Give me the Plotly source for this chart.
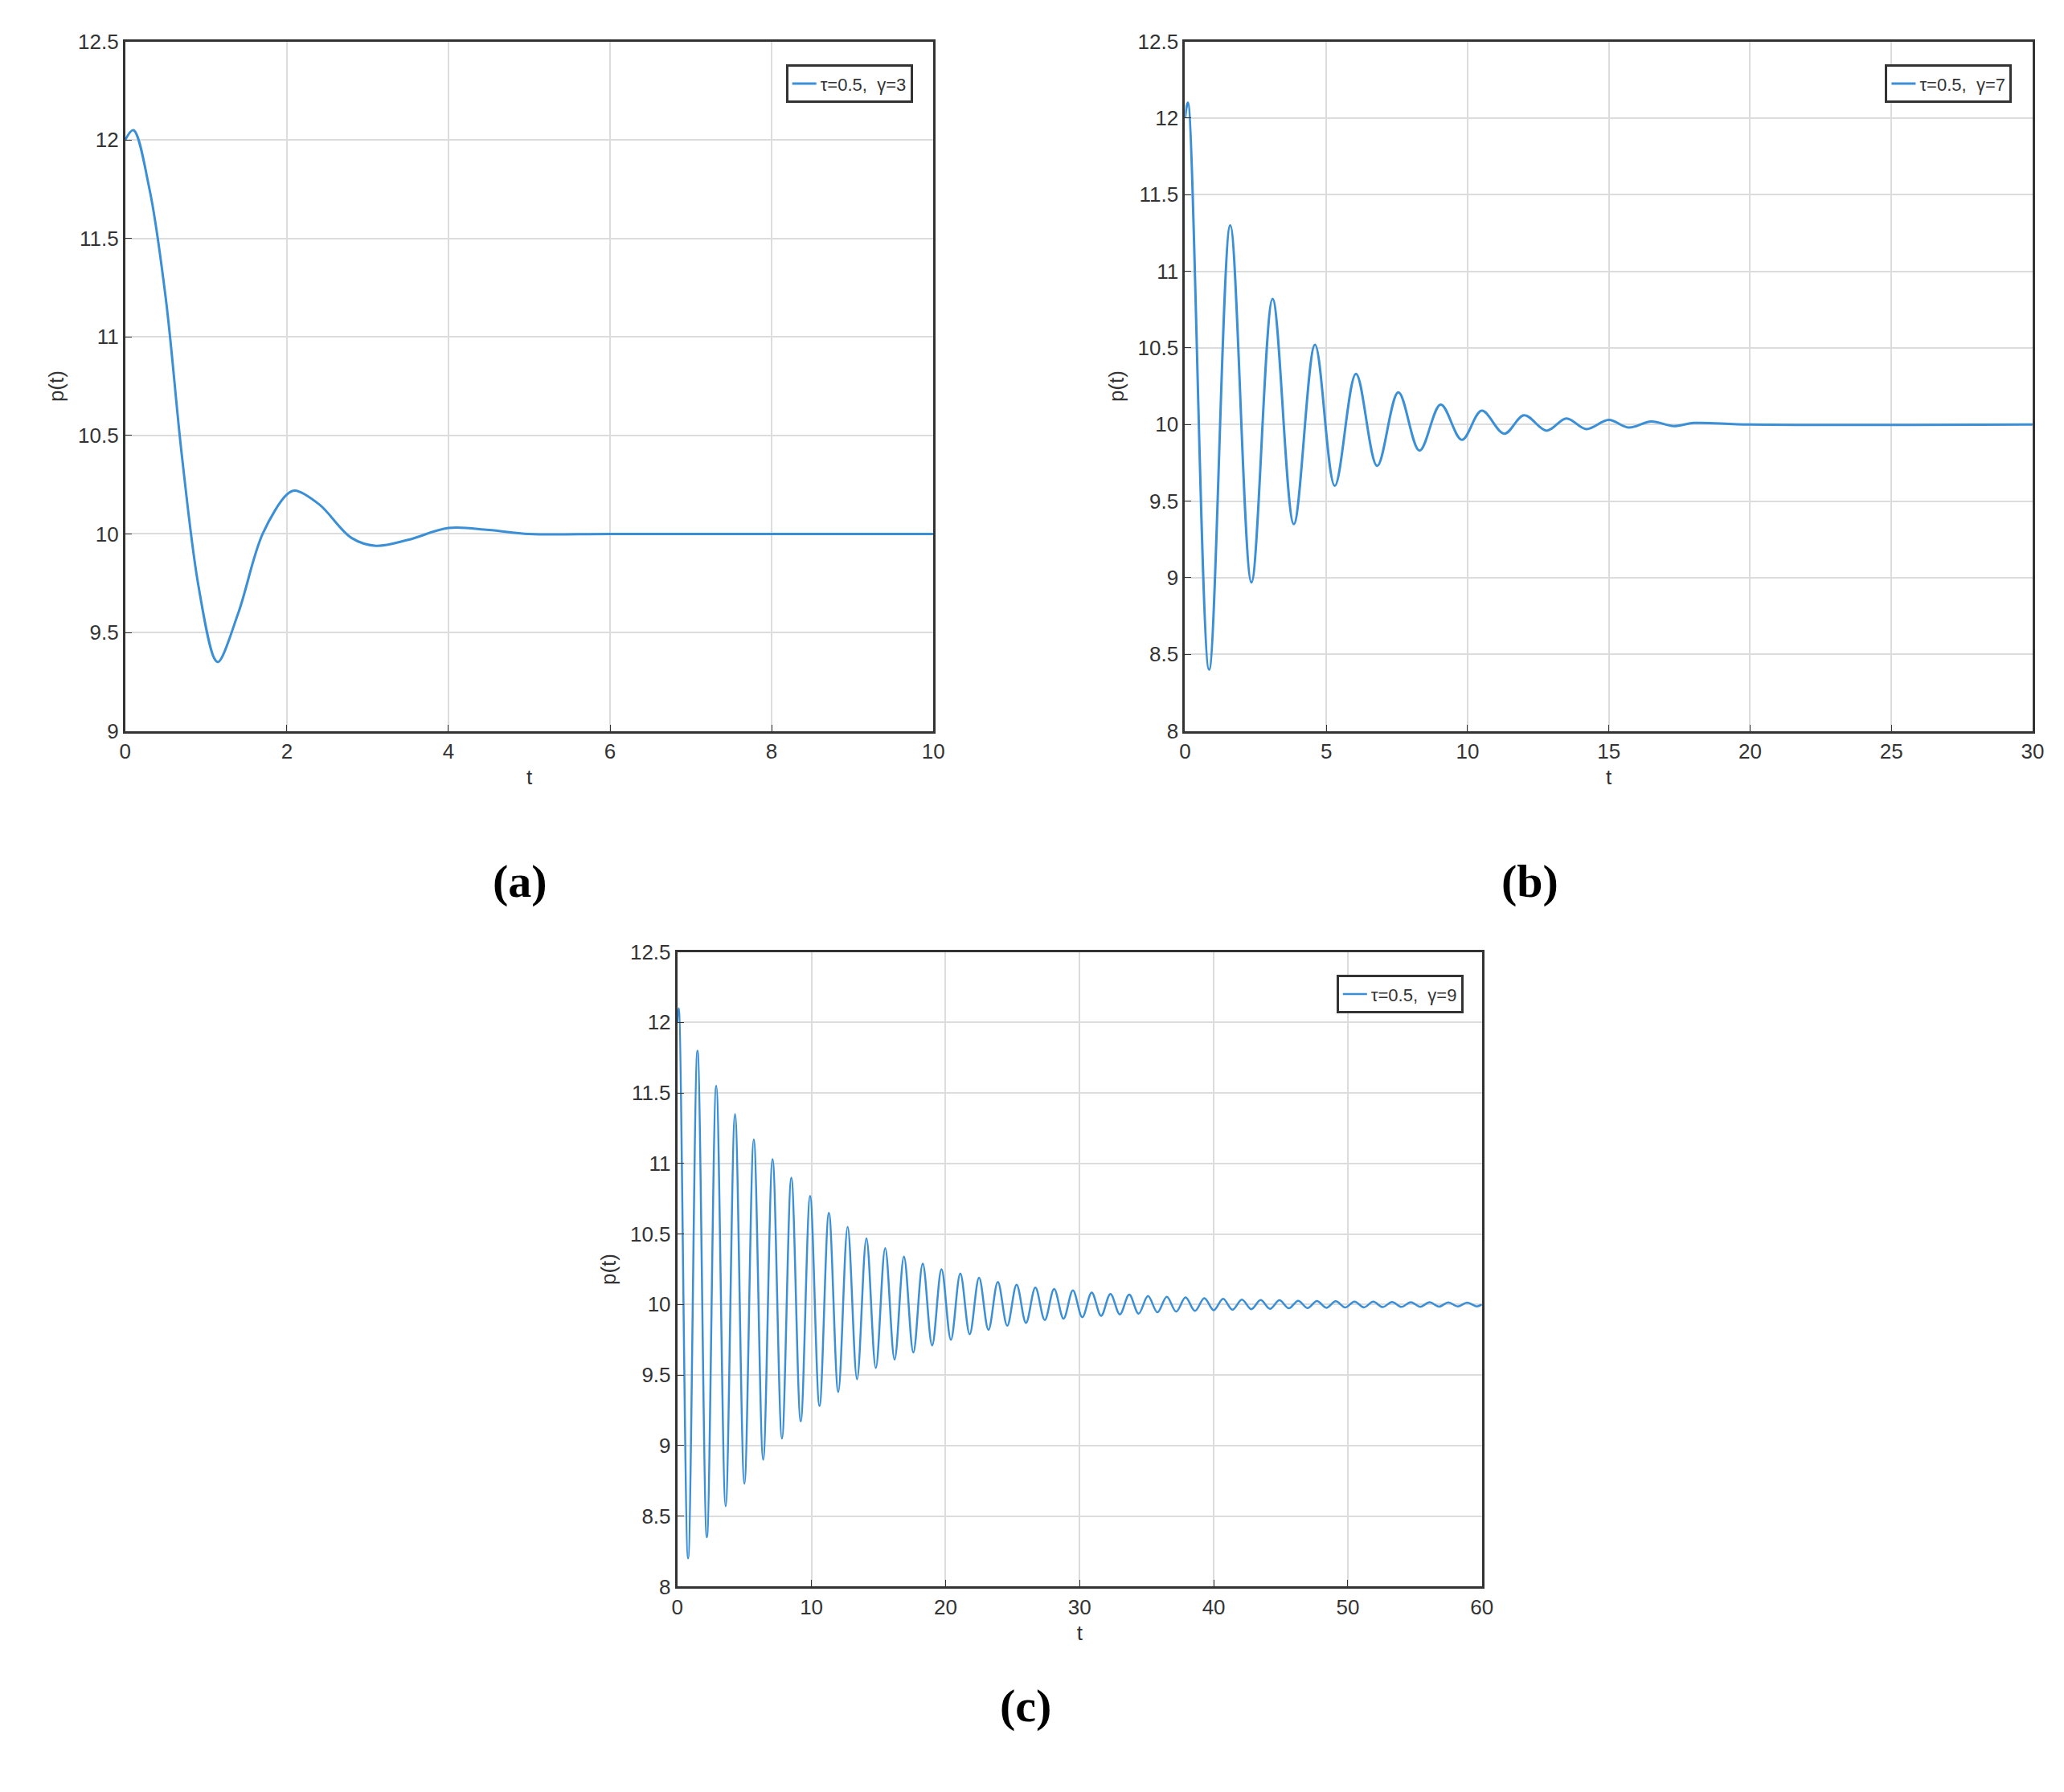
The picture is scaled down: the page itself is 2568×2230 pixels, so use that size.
import plotly.graph_objects as go

# Panel (a): tau=0.5, gamma=3
ta = [0, 0.1, 0.3, 0.5, 0.7, 0.9, 1.1, 1.15, 1.4, 1.7, 2.0, 2.1, 2.4, 2.8, 3.1, 3.5, 4.0, 4.5, 5.0, 6.0, 8.0, 10.0]
pa = [12.0, 12.05, 11.75, 11.2, 10.4, 9.75, 9.37, 9.35, 9.6, 10.0, 10.2, 10.22, 10.15, 9.98, 9.94, 9.97, 10.03, 10.02, 10.0, 10.0, 10.0, 10.0]

# Panel (b): tau=0.5, gamma=7
tb = [0, 0.1, 0.85, 1.6, 2.35, 3.1, 3.85, 4.6, 5.3, 6.05, 6.8, 7.55, 8.3, 9.05, 9.8, 10.5, 11.3, 12.0, 12.8, 13.5, 14.2, 15.0, 15.7, 16.5, 17.3, 18.0, 20.0, 30.0]
pb = [12.0, 12.1, 8.4, 11.3, 8.97, 10.82, 9.35, 10.52, 9.6, 10.33, 9.73, 10.21, 9.83, 10.13, 9.9, 10.09, 9.94, 10.06, 9.96, 10.04, 9.97, 10.03, 9.98, 10.02, 9.99, 10.01, 10.0, 10.0]

# Panel (c): tau=0.5, gamma=9
tc = [0, 0.1, 0.8, 1.5, 2.2, 2.9, 3.6, 4.3, 5.0, 5.7, 6.4, 7.1, 7.8, 8.5, 9.2, 9.9, 10.6, 11.3, 12.0, 12.7, 13.4,
      14.1, 14.8, 15.5, 16.2, 16.9, 17.6, 18.3, 19.0, 19.7, 20.4, 21.1, 21.8, 22.5, 23.2, 23.9, 24.6, 25.3, 26.0,
      26.7, 27.4, 28.1, 28.8, 29.5, 30.2, 30.9, 31.6, 32.3, 33.0, 33.7, 34.4, 35.1, 35.8, 36.5, 37.2, 37.9, 38.6,
      39.3, 40.0, 40.7, 41.4, 42.1, 42.8, 43.5, 44.2, 44.9, 45.6, 46.3, 47.0, 47.7, 48.4, 49.1, 49.8, 50.5, 51.2,
      51.9, 52.6, 53.3, 54.0, 54.7, 55.4, 56.1, 56.8, 57.5, 58.2, 58.9, 59.6, 60.0]
pc = [12.0, 12.1, 8.2, 11.8, 8.35, 11.55, 8.57, 11.35, 8.73, 11.17, 8.9, 11.03, 9.05, 10.9, 9.17, 10.77, 9.28, 10.65,
      9.38, 10.55, 9.47, 10.47, 9.55, 10.4, 9.61, 10.34, 9.66, 10.29, 9.71, 10.25, 9.75, 10.22, 9.79, 10.19, 9.82,
      10.16, 9.85, 10.14, 9.87, 10.12, 9.89, 10.11, 9.9, 10.1, 9.91, 10.085, 9.92, 10.075, 9.93, 10.07, 9.935, 10.06,
      9.945, 10.055, 9.95, 10.05, 9.955, 10.045, 9.96, 10.04, 9.963, 10.035, 9.967, 10.032, 9.97, 10.03, 9.973,
      10.027, 9.975, 10.025, 9.977, 10.023, 9.979, 10.021, 9.98, 10.02, 9.982, 10.018, 9.983, 10.017, 9.984,
      10.016, 9.985, 10.015, 9.986, 10.014, 9.987, 10.0]

names = ["τ=0.5,  γ=3", "τ=0.5,  γ=7", "τ=0.5,  γ=9"]
color = "#3a8fd6"

fig = go.Figure()
fig.add_trace(go.Scatter(x=ta, y=pa, mode="lines", line=dict(color=color, width=3, shape="spline", smoothing=1.0),
                         name=names[0], xaxis="x", yaxis="y", legend="legend"))
fig.add_trace(go.Scatter(x=tb, y=pb, mode="lines", line=dict(color=color, width=3, shape="spline", smoothing=1.0),
                         name=names[1], xaxis="x2", yaxis="y2", legend="legend2"))
fig.add_trace(go.Scatter(x=tc, y=pc, mode="lines", line=dict(color=color, width=2.5, shape="spline", smoothing=1.0),
                         name=names[2], xaxis="x3", yaxis="y3", legend="legend3"))

tf = dict(family="Liberation Sans, Arial", size=26, color="#333")
def ax(dom, anchor, rng, dt, title):
    return dict(domain=dom, anchor=anchor, range=rng, dtick=dt, tick0=0, showgrid=True, gridcolor="#dcdcdc",
                gridwidth=2, showline=True, linecolor="#333", linewidth=3, mirror=True, zeroline=False,
                ticks="inside", ticklen=8, tickcolor="#333", tickfont=tf,
                title=dict(text=title, font=tf, standoff=10))

ya_dom = [0.597, 0.987]
fig.update_layout(
    width=2568, height=2230, plot_bgcolor="white", paper_bgcolor="white",
    margin=dict(l=0, r=0, t=0, b=0), showlegend=True,
    xaxis=ax([0.0553, 0.450], "y", [0, 10], 2, "t"),
    yaxis=ax(ya_dom, "x", [9, 12.5], 0.5, "p(t)"),
    xaxis2=ax([0.573, 0.987], "y2", [0, 30], 5, "t"),
    yaxis2=ax(ya_dom, "x2", [8, 12.5], 0.5, "p(t)"),
    xaxis3=ax([0.325, 0.718], "y3", [0, 60], 10, "t"),
    yaxis3=ax([0.113, 0.472], "x3", [8, 12.5], 0.5, "p(t)"),
)
lg = dict(bgcolor="white", bordercolor="#333", borderwidth=3, font=dict(family="Liberation Sans, Arial", size=22, color="#333"),
          xanchor="right", yanchor="top")
fig.update_layout(legend=dict(lg, x=0.440, y=0.974),
                  legend2=dict(lg, x=0.977, y=0.974),
                  legend3=dict(lg, x=0.709, y=0.459))
lab = dict(family="Liberation Serif, Times New Roman", size=58, color="black")
for txt, x, y in [("<b>(a)</b>", 0.234, 0.512), ("<b>(b)</b>", 0.756, 0.512), ("<b>(c)</b>", 0.495, 0.030)]:
    fig.add_annotation(text=txt, x=x, y=y, xref="paper", yref="paper", showarrow=False, font=lab)

fig.write_html("out.html")
